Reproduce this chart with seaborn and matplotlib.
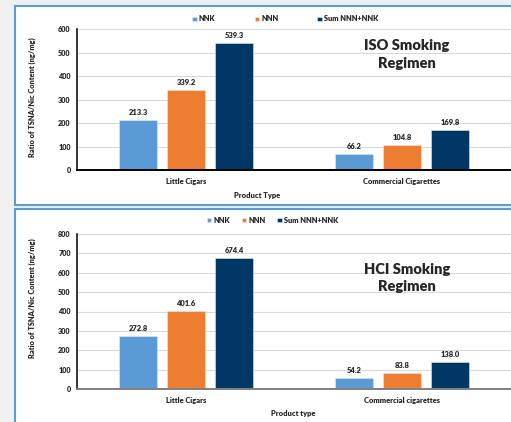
import seaborn as sns
import pandas as pd
import numpy as np
import matplotlib.pyplot as plt
from matplotlib.patches import Rectangle

# values
series = ['NNK', 'NNN', 'Sum NNN+NNK']
iso_products = ['Little Cigars', 'Commercial Cigarettes']
iso_nnk = [213.3, 66.2]
iso_nnn = [339.2, 104.8]
iso_sum = [539.3, 169.8]

hci_products = ['Little Cigars', 'Commercial cigarettes']
hci_nnk = [272.8, 54.2]
hci_nnn = [401.6, 83.8]
hci_sum = [674.4, 138.0]

colors = ['#5b9bd5', '#ed7d31', '#003764']

sns.set_style("white")
plt.rcParams['font.family'] = ['Lato', 'DejaVu Sans']
plt.rcParams['font.weight'] = 'heavy'
W = 'heavy'


def make_df(products, nnk, nnn, tot):
    rows = []
    for vals, s in zip([nnk, nnn, tot], series):
        for p, v in zip(products, vals):
            rows.append({'product': p, 'series': s, 'value': v})
    return pd.DataFrame(rows)


fig = plt.figure(figsize=(5.11, 4.22), dpi=100, facecolor='#f0f0f0')

# panel boxes (behind the axes)
fig.patches.append(Rectangle((15/511, 1-205/422), 1, 199/422, transform=fig.transFigure,
                             facecolor='white', edgecolor='#5b9bd5', lw=1.5, zorder=-1))
fig.patches.append(Rectangle((15/511, -0.05), 1, 1-209/422+0.05, transform=fig.transFigure,
                             facecolor='white', edgecolor='#5b9bd5', lw=1.5, zorder=-1))


def panel(rect, df, ymax, title, title_y, xlab, xlab_pos, ylab_y, leg_pos, colsp, axis_color):
    ax = fig.add_axes(rect)
    ax.set_facecolor('none')
    sns.barplot(data=df, x='product', y='value', hue='series', palette=colors,
                width=0.665, gap=0.2, ax=ax, saturation=1, edgecolor='#dce9f5', linewidth=0.4)
    for c in ax.containers:
        ax.bar_label(c, fmt='%.1f', padding=3, fontsize=5.4, fontweight=W, color='#262626')
    ax.set_xlim(-0.505, 1.505)
    ax.set_ylim(0, ymax)
    ax.set_yticks(np.arange(0, ymax + 1, 100))
    ax.yaxis.grid(True, color='#d9d9d9', lw=0.8)
    ax.set_axisbelow(True)
    for s in ['top', 'right']:
        ax.spines[s].set_visible(False)
    ax.spines['left'].set_color('black')
    ax.spines['left'].set_linewidth(1.1)
    ax.spines['bottom'].set_color(axis_color)
    ax.spines['bottom'].set_linewidth(1.4)
    ax.tick_params(axis='y', direction='inout', length=5, width=1, labelsize=5.2, pad=2)
    ax.tick_params(axis='x', length=0, labelsize=5.4, pad=6)
    for lab in ax.get_xticklabels() + ax.get_yticklabels():
        lab.set_fontweight(W)
    ax.set_xlabel('')
    ax.set_ylabel('Ratio of TSNA/Nic Content (ng/mg)', fontsize=5.3, fontweight=W)
    ax.yaxis.set_label_coords(-0.094, ylab_y)
    ax.text(xlab_pos[0], xlab_pos[1], xlab, transform=ax.transAxes, ha='center', va='center',
            fontsize=5.4, fontweight=W)
    ax.text(0.76, title_y, title, transform=ax.transAxes, ha='center', va='center',
            fontsize=10.5, fontweight=W, linespacing=1.45)
    sns.move_legend(ax, loc='center', bbox_to_anchor=leg_pos, ncol=3, frameon=False, title=None,
                    prop={'size': 5.3, 'weight': W}, handlelength=0.6, handleheight=0.6,
                    handletextpad=0.3, columnspacing=colsp)
    return ax


panel([77/511, 1-170/422, 434/511, 141/422], make_df(iso_products, iso_nnk, iso_nnn, iso_sum),
      600, 'ISO Smoking\nRegimen', 0.82, 'Product Type', (0.415, -0.184), 0.514,
      (0.48, 1.071), 5.3, 'black')
panel([77/511, 1-389/422, 434/511, 155/422], make_df(hci_products, hci_nnk, hci_nnn, hci_sum),
      800, 'HCI Smoking\nRegimen', 0.716, 'Product type', (0.498, -0.155), 0.587,
      (0.45, 1.09), 1.6, '#808080')

plt.savefig('out.png', dpi=100, facecolor=fig.get_facecolor())
